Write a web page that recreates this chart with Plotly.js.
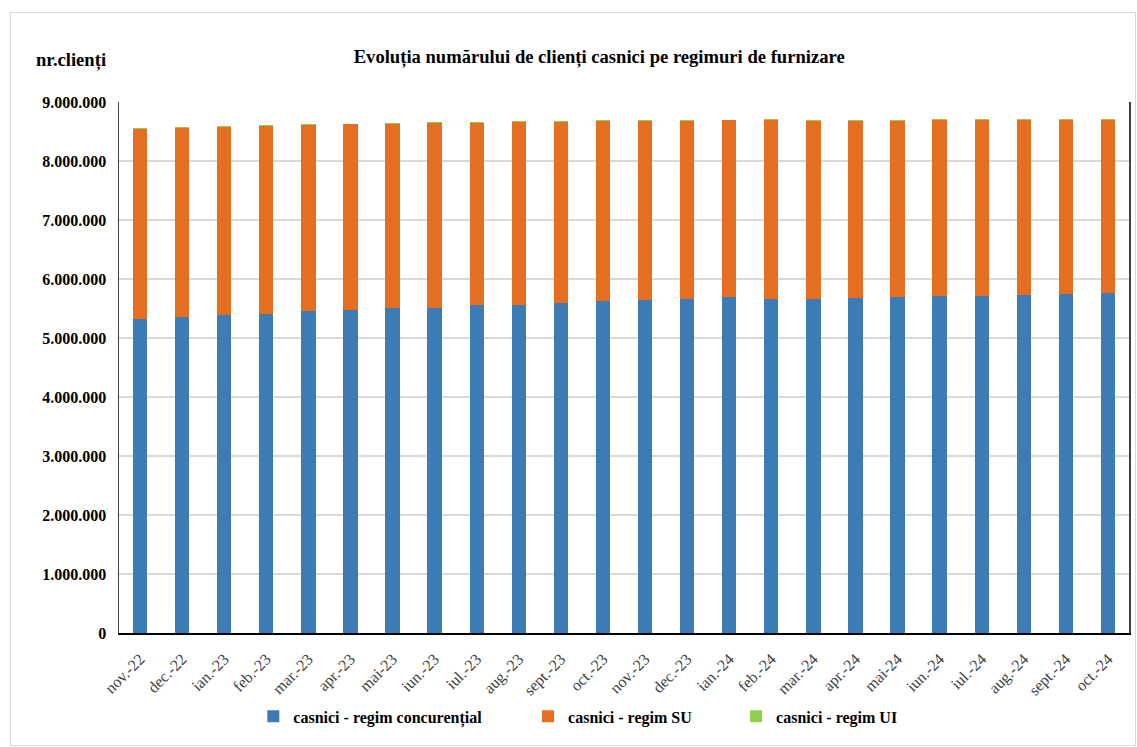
<!DOCTYPE html>
<html>
<head>
<meta charset="utf-8">
<script src="https://cdn.plot.ly/plotly-3.0.1.min.js"></script>
<style>
  html, body { margin: 0; padding: 0; background: #ffffff; }
  #chart { width: 1137px; height: 747px; }
  #frame { position: absolute; left: 10px; top: 12px; width: 1124px; height: 732px;
           border: 1px solid #d9d9d9; pointer-events: none; }
</style>
</head>
<body>
<div id="chart"></div>
<div id="frame"></div>
<script>
const months = ["nov.-22","dec.-22","ian.-23","feb.-23","mar.-23","apr.-23","mai-23","iun.-23",
  "iul.-23","aug.-23","sept.-23","oct.-23","nov.-23","dec.-23","ian.-24","feb.-24",
  "mar.-24","apr.-24","mai-24","iun.-24","iul.-24","aug.-24","sept.-24","oct.-24"];

const concurential = [5322000,5356000,5390000,5412000,5452000,5475000,5503000,5508000,
  5554000,5564000,5598000,5632000,5644000,5661000,5690000,5661000,
  5661000,5678000,5695000,5712000,5712000,5734000,5746000,5763000];

const regimSU = [3221000,3204000,3187000,3182000,3158000,3145000,3124000,3137000,
  3091000,3096000,3062000,3048000,3036000,3019000,3000000,3034000,
  3019000,3002000,2985000,2983000,2983000,2961000,2949000,2932000];

const regimUI = [12000,12000,12000,12000,12000,12000,12000,12000,
  12000,12000,12000,12000,12000,12000,12000,12000,
  12000,12000,12000,12000,12000,12000,12000,12000];

const seriesNames = ["casnici - regim concurențial","casnici - regim SU","casnici - regim UI"];

const serif = "Liberation Serif";

const traces = [
  {type:"bar", name:seriesNames[0], x:months, y:concurential, marker:{color:"#3d7bb7"}, legend:"legend"},
  {type:"bar", name:seriesNames[1], x:months, y:regimSU, marker:{color:"#e66e20"}, legend:"legend2"},
  {type:"bar", name:seriesNames[2], x:months, y:regimUI, marker:{color:"#8fd14f"}, legend:"legend3"}
];

const legFont = {family:serif, size:16, color:"#000000", weight:"bold"};
function leg(x){ return {orientation:"h", x:x, xanchor:"left", y:-0.125, yanchor:"top",
  font:legFont, itemwidth:30, bgcolor:"rgba(0,0,0,0)"}; }

const layout = {
  width:1137, height:747,
  margin:{l:119, r:8, t:102, b:114},
  paper_bgcolor:"#ffffff", plot_bgcolor:"#ffffff",
  barmode:"stack", bargap:0.66,
  separators:",.",
  showlegend:true,
  hovermode:false,
  font:{family:serif, color:"#000000"},
  title:{text:"<b>Evoluția numărului de clienți casnici pe regimuri de furnizare</b>",
         font:{family:serif, size:18.6, color:"#000000"},
         x:0.527, xanchor:"center", y:0.925, yanchor:"middle"},
  xaxis:{type:"category", tickangle:-45, tickfont:{family:serif, size:16, color:"#404040"},
         showline:true, linecolor:"#000000", linewidth:1.5, mirror:false,
         ticks:"", showgrid:false, ticklabelstandoff:9},
  yaxis:{range:[0,9000000], dtick:1000000, tickformat:",d",
         tickfont:{family:serif, size:16, color:"#000000", weight:"bold"},
         showgrid:true, gridcolor:"#d9d9d9", gridwidth:1.5,
         showline:true, linecolor:"#404040", linewidth:1.5, mirror:true,
         zeroline:false, ticks:"", ticklabelstandoff:8},
  legend:leg(0.133),
  legend2:leg(0.405),
  legend3:leg(0.611),
  annotations:[{text:"<b>nr.clienți</b>", xref:"paper", yref:"paper",
    x:-0.011, y:1.08, xanchor:"right", yanchor:"middle", showarrow:false,
    font:{family:serif, size:18.6, color:"#000000"}}]
};

Plotly.newPlot("chart", traces, layout, {displayModeBar:false, staticPlot:true});
</script>
</body>
</html>
